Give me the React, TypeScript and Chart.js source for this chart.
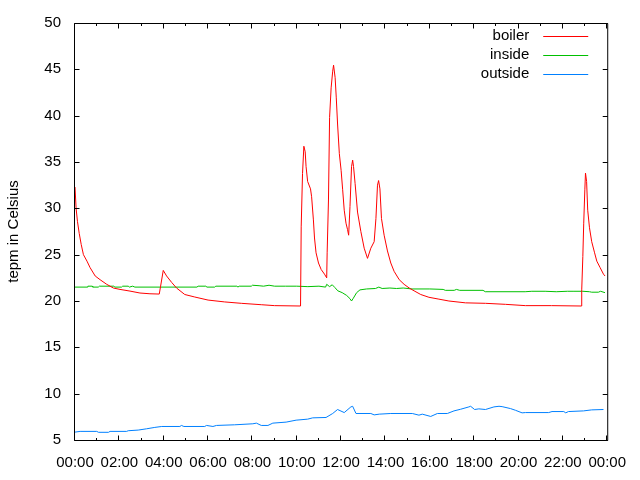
import { useEffect, useRef } from 'react';
import { Chart, registerables } from 'chart.js';

Chart.register(...registerables);

const timeLabels = ['00:00', '02:00', '04:00', '06:00', '08:00', '10:00', '12:00', '14:00', '16:00', '18:00', '20:00', '22:00', '00:00'];
const seriesNames = ['boiler', 'inside', 'outside'];
const seriesColors = ['#ff0000', '#00c000', '#0080ff'];

const boilerHours = [0, 0.05, 0.11, 0.19, 0.28, 0.38, 0.54, 0.68, 0.91, 1.13, 1.43, 1.73, 2.03, 2.48, 2.93, 3.38, 3.8, 3.86, 3.98, 4.13, 4.36, 4.58, 4.95, 5.4, 6.0, 6.75, 7.5, 8.4, 9.0, 10.17, 10.2, 10.26, 10.32, 10.38, 10.42, 10.49, 10.62, 10.67, 10.75, 10.8, 10.87, 10.98, 11.1, 11.25, 11.35, 11.37, 11.43, 11.48, 11.55, 11.62, 11.66, 11.73, 11.78, 11.84, 11.92, 12.0, 12.07, 12.14, 12.22, 12.29, 12.34, 12.4, 12.47, 12.52, 12.56, 12.63, 12.74, 12.89, 13.04, 13.19, 13.34, 13.49, 13.57, 13.64, 13.69, 13.75, 13.82, 13.94, 14.09, 14.24, 14.39, 14.62, 14.84, 15.07, 15.29, 15.59, 15.96, 16.41, 16.86, 17.61, 18.51, 19.41, 20.31, 21.49, 22.83, 22.85, 22.9, 22.94, 22.99, 23.02, 23.07, 23.12, 23.2, 23.3, 23.43, 23.53, 23.68, 23.83, 23.9];
const boilerTemps = [32.3, 30.0, 28.6, 27.3, 26.1, 25.0, 24.3, 23.6, 22.7, 22.3, 21.8, 21.4, 21.25, 21.07, 20.86, 20.78, 20.75, 21.6, 23.3, 22.7, 22.0, 21.4, 20.7, 20.43, 20.1, 19.9, 19.75, 19.6, 19.5, 19.46, 28.0, 33.75, 36.7, 36.1, 34.5, 32.9, 32.1, 31.25, 28.75, 26.8, 25.2, 24.1, 23.4, 22.9, 22.5, 25.2, 30.9, 39.8, 43.0, 44.8, 45.45, 44.1, 42.0, 39.1, 35.9, 34.1, 32.0, 29.8, 28.4, 27.7, 27.1, 30.2, 34.5, 35.2, 34.5, 32.7, 29.6, 27.5, 25.7, 24.6, 25.7, 26.4, 28.9, 32.5, 33.0, 32.1, 28.9, 27.1, 25.4, 24.1, 23.2, 22.3, 21.8, 21.4, 21.1, 20.7, 20.4, 20.2, 20.0, 19.8, 19.75, 19.64, 19.5, 19.5, 19.46, 21.2, 24.8, 28.4, 32.0, 33.8, 32.9, 29.8, 27.9, 26.4, 25.2, 24.3, 23.6, 22.9, 22.7];

const insideHours = [0, 0.55, 0.58, 0.78, 0.8, 1.05, 1.1, 1.75, 1.8, 2.1, 2.15, 2.4, 2.45, 2.6, 2.7, 5.5, 5.55, 5.9, 5.95, 6.3, 6.35, 7.3, 7.35, 7.4, 7.95, 8.0, 8.3, 8.5, 8.75, 9.0, 9.5, 10.0, 10.5, 11.0, 11.3, 11.35, 11.48, 11.6, 11.72, 11.85, 12.05, 12.25, 12.4, 12.47, 12.55, 12.7, 12.85, 13.15, 13.55, 13.7, 13.85, 14.2, 14.5, 14.8, 15.2, 16.0, 16.6, 16.7, 17.1, 17.2, 17.35, 18.4, 18.5, 20.3, 20.6, 21.2, 21.7, 22.2, 22.5, 22.9, 23.2, 23.3, 23.6, 23.7, 23.9];
const insideTemps = [21.5, 21.5, 21.6, 21.6, 21.5, 21.5, 21.6, 21.6, 21.5, 21.5, 21.6, 21.6, 21.5, 21.6, 21.5, 21.5, 21.6, 21.6, 21.5, 21.5, 21.6, 21.6, 21.5, 21.6, 21.6, 21.7, 21.65, 21.6, 21.7, 21.6, 21.6, 21.6, 21.55, 21.6, 21.5, 21.8, 21.55, 21.75, 21.45, 21.1, 20.9, 20.6, 20.25, 20.0, 20.3, 20.9, 21.2, 21.3, 21.35, 21.5, 21.35, 21.4, 21.35, 21.4, 21.3, 21.3, 21.25, 21.15, 21.15, 21.25, 21.15, 21.15, 21.0, 21.0, 21.05, 21.05, 21.0, 21.05, 21.05, 21.05, 21.0, 20.95, 20.95, 21.05, 20.9];

const outsideHours = [0, 0.23, 0.98, 1.06, 1.51, 1.58, 2.33, 2.4, 2.85, 3.23, 3.6, 3.91, 4.73, 4.8, 4.91, 5.85, 5.93, 6.22, 6.38, 7.2, 8.02, 8.18, 8.4, 8.7, 8.92, 9.52, 9.97, 10.49, 10.72, 11.32, 11.62, 11.84, 12.14, 12.44, 12.52, 12.67, 13.34, 13.49, 13.72, 14.24, 15.21, 15.51, 15.66, 16.04, 16.34, 16.79, 17.09, 17.39, 17.76, 17.84, 18.02, 18.21, 18.51, 18.89, 19.12, 19.26, 19.64, 19.86, 20.16, 20.31, 21.36, 21.51, 22.04, 22.13, 22.25, 22.93, 23.3, 23.83];
const outsideTemps = [5.85, 5.93, 5.93, 5.83, 5.83, 5.93, 5.93, 6.0, 6.07, 6.21, 6.36, 6.46, 6.46, 6.57, 6.46, 6.46, 6.57, 6.46, 6.57, 6.64, 6.75, 6.82, 6.57, 6.57, 6.82, 6.93, 7.14, 7.25, 7.39, 7.43, 7.86, 8.29, 7.96, 8.57, 8.64, 7.86, 7.86, 7.71, 7.79, 7.86, 7.86, 7.68, 7.79, 7.54, 7.86, 7.86, 8.14, 8.32, 8.57, 8.64, 8.29, 8.36, 8.29, 8.57, 8.64, 8.6, 8.39, 8.21, 7.93, 7.96, 7.96, 8.07, 8.07, 7.93, 8.07, 8.14, 8.25, 8.29];

const FONT = '"Liberation Sans", Arial, sans-serif';

const framePlugin = {
  id: 'gnuplotFrame',
  afterDatasetsDraw(chart: any) {
    const { ctx, chartArea } = chart;
    const { left, right, top, bottom } = chartArea;
    const xs = chart.scales.x;
    const ys = chart.scales.y;
    ctx.save();
    ctx.strokeStyle = '#000';
    ctx.lineWidth = 1;
    const L = left - 0.5, R = right + 0.5, T = top + 0.5, B = bottom + 0.5;
    ctx.beginPath();
    ctx.rect(L, T, R - L, B - T);
    ctx.stroke();
    ctx.beginPath();
    for (let h = 0; h <= 24; h++) {
      const px = Math.round(xs.getPixelForValue(h)) - 0.5;
      const len = h % 2 === 0 ? 5 : 2.5;
      ctx.moveTo(px, B);
      ctx.lineTo(px, B - len);
      ctx.moveTo(px, T);
      ctx.lineTo(px, T + len);
    }
    for (let v = 5; v <= 50; v += 5) {
      const py = Math.round(ys.getPixelForValue(v)) + 0.5;
      ctx.moveTo(L, py);
      ctx.lineTo(L + 5, py);
      ctx.moveTo(R, py);
      ctx.lineTo(R - 5, py);
    }
    ctx.stroke();
    ctx.restore();
  },
  afterDraw(chart: any) {
    const { ctx, chartArea } = chart;
    const { right, top } = chartArea;
    ctx.save();
    ctx.font = '15px ' + FONT;
    ctx.textAlign = 'right';
    ctx.textBaseline = 'middle';
    chart.data.datasets.forEach((d: any, i: number) => {
      const yy = top + 13 + i * 19;
      ctx.fillStyle = '#000';
      ctx.fillText(d.label, right - 78, yy);
      ctx.strokeStyle = d.borderColor;
      ctx.lineWidth = 1;
      ctx.beginPath();
      ctx.moveTo(right - 64, Math.round(yy) + 0.5);
      ctx.lineTo(right - 19, Math.round(yy) + 0.5);
      ctx.stroke();
    });
    ctx.restore();
  },
};

function pts(hours: number[], temps: number[]) {
  return hours.map((h, i) => ({ x: h, y: temps[i] }));
}

export default function App() {
  const ref = useRef<HTMLCanvasElement>(null);
  useEffect(() => {
    const prev = document.body.style.margin;
    document.body.style.margin = '0';
    const series = [
      pts(boilerHours, boilerTemps),
      pts(insideHours, insideTemps),
      pts(outsideHours, outsideTemps),
    ];
    const chart = new Chart(ref.current as HTMLCanvasElement, {
      type: 'line',
      data: {
        datasets: series.map((data, i) => ({
          label: seriesNames[i],
          data,
          borderColor: seriesColors[i],
          backgroundColor: seriesColors[i],
          borderWidth: 1,
          pointRadius: 0,
          tension: 0,
          fill: false,
        })),
      },
      options: {
        responsive: false,
        animation: false,
        layout: { padding: { top: 20, right: 31, left: 0, bottom: 0 } },
        plugins: { legend: { display: false }, tooltip: { enabled: false } },
        scales: {
          x: {
            type: 'linear',
            min: 0,
            max: 24,
            grid: { display: false, drawTicks: false },
            border: { display: false },
            ticks: {
              stepSize: 2,
              autoSkip: false,
              maxRotation: 0,
              padding: 14,
              color: '#000',
              font: { family: FONT, size: 15 },
              callback: (_v: any, i: number) => timeLabels[i],
            },
            afterFit: (s: any) => { s.height = 40; },
          },
          y: {
            min: 5,
            max: 50,
            grid: { display: false, drawTicks: false },
            border: { display: false },
            ticks: {
              stepSize: 5,
              padding: 14,
              color: '#000',
              font: { family: FONT, size: 15 },
            },
            title: {
              display: true,
              text: 'tepm in Celsius',
              color: '#000',
              font: { family: FONT, size: 15 },
              padding: { top: 5, bottom: 0 },
            },
            afterFit: (s: any) => { s.width = 75; },
          },
        },
      } as any,
      plugins: [framePlugin],
    });
    return () => {
      chart.destroy();
      document.body.style.margin = prev;
    };
  }, []);
  return (
    <div style={{ width: 640, height: 480 }}>
      <canvas ref={ref} width={640} height={480} style={{ display: 'block' }} />
    </div>
  );
}
